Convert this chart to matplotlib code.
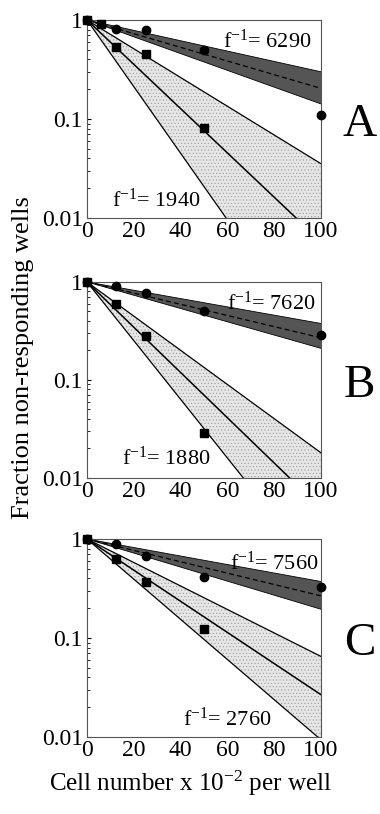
import numpy as np
import matplotlib
matplotlib.use("Agg")
import matplotlib.pyplot as plt

plt.rcParams['font.family'] = ['Liberation Serif', 'DejaVu Serif']
plt.rcParams['mathtext.fontset'] = 'custom'
plt.rcParams['mathtext.rm'] = 'Liberation Serif'
plt.rcParams['mathtext.it'] = 'Liberation Serif'
plt.rcParams['hatch.linewidth'] = 0.4
plt.rcParams['hatch.color'] = '#888888'

panels = ['A', 'B', 'C']
# fitted frequencies (cells per responding cell) and band limits
f_high = [6290, 7620, 7560]          # dark band (circles)
f_high_lo = [5120, 6410, 6120]       # steeper edge of dark band
f_high_hi = [8300, 10250, 10110]     # shallower edge of dark band
f_low = [1940, 1880, 2760]           # light band (squares)
f_low_lo = [1290, 1450, 2140]
f_low_hi = [2990, 2490, 3660]

circ_x = [[0, 12.5, 25, 50, 100], [0, 12.5, 25, 50, 100], [0, 12.5, 25, 50, 100]]
circ_y = [[1.0, 0.82, 0.80, 0.50, 0.11], [1.0, 0.92, 0.78, 0.51, 0.29], [1.0, 0.90, 0.67, 0.41, 0.33]]
sq_x = [[0, 6, 12.5, 25, 50], [0, 12.5, 25, 50], [0, 12.5, 25, 50]]
sq_y = [[1.0, 0.92, 0.54, 0.45, 0.081], [1.0, 0.60, 0.28, 0.029], [1.0, 0.63, 0.37, 0.123]]

label_high_pos = [(58, 0.52), (60, 0.52), (61, 0.49)]
label_low_pos = [(10.7, 0.0129), (15, 0.0136), (41, 0.0129)]

fig = plt.figure(figsize=(3.8, 8.14), dpi=100)
axes_rect = [[0.229, 0.7322, 0.616, 0.2432],
             [0.229, 0.4128, 0.616, 0.2408],
             [0.229, 0.0946, 0.616, 0.2432]]

x = np.linspace(0, 100, 400)
def curve(f):
    return np.exp(-x * 100.0 / f)

for i, p in enumerate(panels):
    ax = fig.add_axes(axes_rect[i])
    ax.set_yscale('log')
    ax.set_xlim(0, 100)
    ax.set_ylim(0.01, 1)
    # light band
    ax.fill_between(x, curve(f_low_lo[i]), curve(f_low_hi[i]), facecolor='#e6e6e6',
                    hatch='.....', edgecolor='#9a9a9a', linewidth=0)
    ax.plot(x, curve(f_low_lo[i]), color='black', lw=0.9)
    ax.plot(x, curve(f_low_hi[i]), color='black', lw=0.9)
    ax.plot(x, curve(f_low[i]), color='black', lw=1.1)
    # dark band
    ax.fill_between(x, curve(f_high_lo[i]), curve(f_high_hi[i]), facecolor='#555555',
                    edgecolor='none')
    ax.plot(x, curve(f_high_lo[i]), color='black', lw=0.6)
    ax.plot(x, curve(f_high_hi[i]), color='black', lw=0.6)
    ax.plot(x, curve(f_high[i]), color='black', lw=0.9, ls=(0, (4, 2.5)))
    # points
    ax.plot(circ_x[i], circ_y[i], 'o', color='black', ms=6, clip_on=False, zorder=5)
    ax.plot(sq_x[i], sq_y[i], 's', color='black', ms=6, clip_on=False, zorder=5)
    # labels
    ax.text(label_high_pos[i][0], label_high_pos[i][1], r'f$^{-1}$= %d' % f_high[i],
            fontsize=16, ha='left', va='baseline', zorder=6)
    ax.text(label_low_pos[i][0], label_low_pos[i][1], r'f$^{-1}$= %d' % f_low[i],
            fontsize=16, ha='left', va='baseline', zorder=6)
    ax.set_xticks([0, 20, 40, 60, 80, 100])
    ax.set_yticks([0.01, 0.1, 1])
    ax.set_yticklabels(['0.01', '0.1', '1'])
    ax.tick_params(axis='both', which='major', labelsize=17, direction='in', length=3, pad=3)
    ax.tick_params(axis='y', which='minor', direction='in', length=2)
    ax.tick_params(axis='x', which='major', length=0, pad=2)
    for s in ax.spines.values():
        s.set_linewidth(0.8)
        s.set_color('#555555')
    fig.text(0.947, axes_rect[i][1] + axes_rect[i][3] * 0.47, p, fontsize=34,
             ha='center', va='center')

fig.text(0.06, 0.561, 'Fraction non-responding wells', rotation=90, fontsize=19,
         ha='center', va='center')
fig.text(0.5, 0.038, r'Cell number x 10$^{-2}$ per well', fontsize=18,
         ha='center', va='center')

fig.savefig('out.png', dpi=100)
